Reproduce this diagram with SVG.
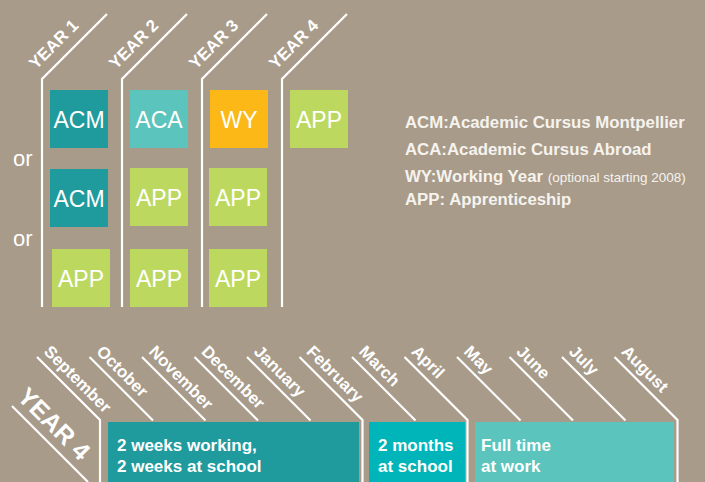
<svg xmlns="http://www.w3.org/2000/svg" width="705" height="482" viewBox="0 0 705 482">
  <style>
    .rule { fill: none; stroke: #ffffff; stroke-width: 2.2; stroke-linecap: butt; stroke-linejoin: miter; }
    .year { font-family: "Liberation Sans", Arial, sans-serif; font-weight: bold; font-size: 17px; fill: #ffffff; }
    .box-label { font-family: "Liberation Sans", Arial, sans-serif; font-size: 23px; fill: #ffffff; text-anchor: middle; }
    .or { font-family: "Liberation Sans", Arial, sans-serif; font-size: 22px; fill: #ffffff; }
    .legend { font-family: "Liberation Sans", Arial, sans-serif; font-weight: bold; font-size: 16.8px; fill: #f6f3ee; }
    .legend-note { font-weight: normal; font-size: 13.5px; }
    .month { font-family: "Liberation Sans", Arial, sans-serif; font-weight: bold; font-size: 16.8px; fill: #ffffff; }
    .year4 { font-family: "Liberation Sans", Arial, sans-serif; font-weight: bold; font-size: 25px; fill: #ffffff; }
    .period { font-family: "Liberation Sans", Arial, sans-serif; font-weight: bold; font-size: 17px; fill: #ffffff; }
    .acm { fill: #1f9b9e; }
    .aca { fill: #5bc4bd; }
    .wy { fill: #fbb817; }
    .app { fill: #bdd85f; }
    .school { fill: #00b5b9; }
  </style>

  <!-- background -->
  <rect x="0" y="0" width="705" height="482" fill="#a89b8a"/>

  <!-- year column dividers -->
  <g id="connectors">
    <polyline class="rule" points="42,307 42,79 107,14"/>
    <polyline class="rule" points="122,307 122,79 187,14"/>
    <polyline class="rule" points="202,307 202,79 267,14"/>
    <polyline class="rule" points="282,307 282,79 347,14"/>

    <!-- month dividers of the fourth year -->
    <line class="rule" x1="12" y1="406" x2="88" y2="482"/>
    <polyline class="rule" points="37,357 100,420 100,482"/>
    <polyline class="rule" points="89.5,357 153,420.5"/>
    <polyline class="rule" points="142,357 205.5,420.5"/>
    <polyline class="rule" points="194.5,357 258,420.5"/>
    <polyline class="rule" points="247,357 310.5,420.5"/>
    <polyline class="rule" points="299.5,357 362.5,420 362.5,482"/>
    <polyline class="rule" points="352,357 415.5,420.5"/>
    <polyline class="rule" points="404.5,357 467.5,420 467.5,482"/>
    <polyline class="rule" points="457,357 520.5,420.5"/>
    <polyline class="rule" points="509.5,357 573,420.5"/>
    <polyline class="rule" points="562,357 625.5,420.5"/>
    <polyline class="rule" points="614.5,357 677.5,420 677.5,482"/>
  </g>

  <!-- year headings -->
  <g id="year-headings">
    <text class="year" transform="translate(36,70) rotate(-45)">YEAR 1</text>
    <text class="year" transform="translate(116,70) rotate(-45)">YEAR 2</text>
    <text class="year" transform="translate(196,70) rotate(-45)">YEAR 3</text>
    <text class="year" transform="translate(276,70) rotate(-45)">YEAR 4</text>
  </g>

  <!-- alternatives -->
  <g id="or-labels">
    <text class="or" x="13" y="166">or</text>
    <text class="or" x="13" y="246">or</text>
  </g>

  <!-- path 1 -->
  <g id="y1-acm-a"><rect class="acm" x="50" y="90" width="58" height="58"/><text class="box-label" x="79" y="128">ACM</text></g>
  <g id="y2-aca"><rect class="aca" x="130" y="90" width="58" height="58"/><text class="box-label" x="159" y="128">ACA</text></g>
  <g id="y3-wy"><rect class="wy" x="210" y="90" width="58" height="58"/><text class="box-label" x="239" y="128">WY</text></g>
  <g id="y4-app"><rect class="app" x="290" y="90" width="58" height="58"/><text class="box-label" x="319" y="128">APP</text></g>

  <!-- path 2 -->
  <g id="y1-acm-b"><rect class="acm" x="50" y="169" width="58" height="58"/><text class="box-label" x="79" y="207">ACM</text></g>
  <g id="y2-app-b"><rect class="app" x="130" y="168" width="58" height="58"/><text class="box-label" x="159" y="206">APP</text></g>
  <g id="y3-app-b"><rect class="app" x="209" y="168" width="58" height="58"/><text class="box-label" x="238" y="206">APP</text></g>

  <!-- path 3 -->
  <g id="y1-app-c"><rect class="app" x="52" y="249" width="58" height="58"/><text class="box-label" x="81" y="287">APP</text></g>
  <g id="y2-app-c"><rect class="app" x="130" y="249" width="58" height="58"/><text class="box-label" x="159" y="287">APP</text></g>
  <g id="y3-app-c"><rect class="app" x="209" y="249" width="58" height="58"/><text class="box-label" x="238" y="287">APP</text></g>

  <!-- legend -->
  <g id="legend">
    <text class="legend" x="405" y="128">ACM:Academic Cursus Montpellier</text>
    <text class="legend" x="405" y="155">ACA:Academic Cursus Abroad</text>
    <text class="legend" x="405" y="181.5">WY:Working Year <tspan class="legend-note">(optional starting 2008)</tspan></text>
    <text class="legend" x="405" y="205">APP: Apprenticeship</text>
  </g>

  <!-- fourth year timeline -->
  <g id="timeline-heading">
    <text class="year4" transform="translate(16,398) rotate(45)">YEAR 4</text>
  </g>

  <g id="months">
    <text class="month" transform="translate(43,352.5) rotate(45)">September</text>
    <text class="month" transform="translate(95.5,352.5) rotate(45)">October</text>
    <text class="month" transform="translate(148,352.5) rotate(45)">November</text>
    <text class="month" transform="translate(200.5,352.5) rotate(45)">December</text>
    <text class="month" transform="translate(253,352.5) rotate(45)">January</text>
    <text class="month" transform="translate(305.5,352.5) rotate(45)">February</text>
    <text class="month" transform="translate(358,352.5) rotate(45)">March</text>
    <text class="month" transform="translate(410.5,352.5) rotate(45)">April</text>
    <text class="month" transform="translate(463,352.5) rotate(45)">May</text>
    <text class="month" transform="translate(515.5,352.5) rotate(45)">June</text>
    <text class="month" transform="translate(568,352.5) rotate(45)">July</text>
    <text class="month" transform="translate(620.5,352.5) rotate(45)">August</text>
  </g>

  <g id="period-alternating">
    <rect class="acm" x="108" y="422" width="251" height="60"/>
    <text class="period" x="117" y="451">2 weeks working,</text>
    <text class="period" x="117" y="472">2 weeks at school</text>
  </g>
  <g id="period-school">
    <rect class="school" x="369" y="422" width="96" height="60"/>
    <text class="period" x="378" y="451">2 months</text>
    <text class="period" x="378" y="472">at school</text>
  </g>
  <g id="period-work">
    <rect class="aca" x="475" y="422" width="199" height="60"/>
    <text class="period" x="481" y="451">Full time</text>
    <text class="period" x="481" y="472">at work</text>
  </g>
</svg>
